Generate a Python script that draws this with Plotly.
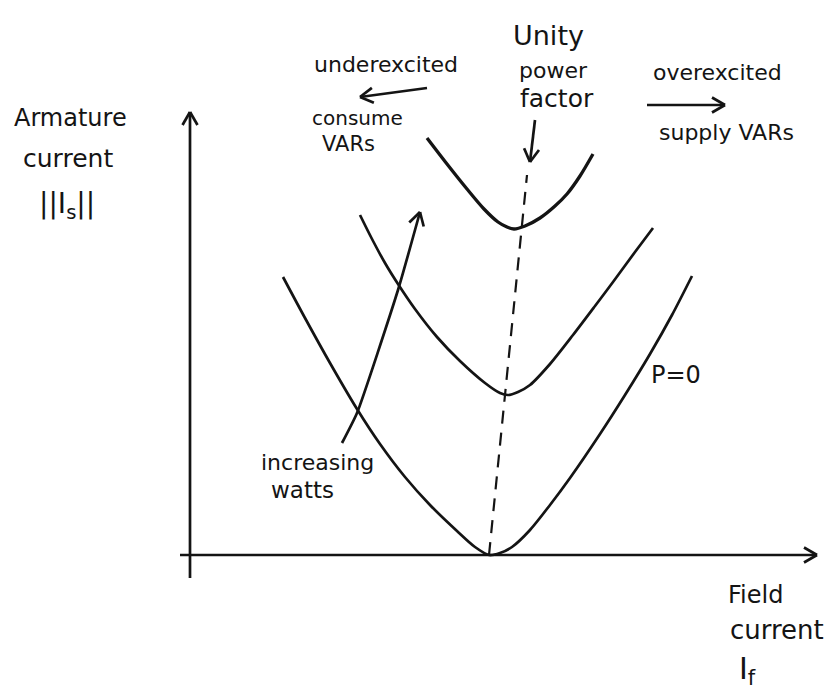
import numpy as np
import plotly.graph_objects as go

# Data units: field current (x) and armature current (y), arbitrary units
# V-curves
p0_if = [0.93, 1.15, 1.40, 1.67, 1.90, 2.15, 2.40, 2.67, 2.85, 2.99,
         3.10, 3.22, 3.40, 3.60, 3.80, 4.10, 4.35, 4.60, 4.82, 5.02]
p0_ia = [2.78, 2.37, 1.92, 1.46, 1.11, 0.78, 0.50, 0.24, 0.08, 0.00,
         0.02, 0.08, 0.25, 0.50, 0.77, 1.21, 1.60, 2.01, 2.40, 2.79]

mid_if = [1.70, 1.82, 1.95, 2.08, 2.25, 2.47, 2.70, 2.95, 3.10, 3.18,
          3.28, 3.40, 3.60, 3.83, 4.05, 4.23, 4.45, 4.63]
mid_ia = [3.40, 3.16, 2.92, 2.71, 2.46, 2.18, 1.94, 1.72, 1.62, 1.60,
          1.63, 1.70, 1.91, 2.20, 2.49, 2.73, 3.03, 3.27]

top_if = [2.37, 2.57, 2.77, 2.94, 3.08, 3.17, 3.24, 3.35, 3.50, 3.65, 3.77, 3.90, 4.03]
top_ia = [4.17, 3.91, 3.66, 3.46, 3.33, 3.28, 3.26, 3.29, 3.37, 3.49, 3.61, 3.79, 4.01]

# unity power factor locus (dashed)
upf_if = [2.99, 3.37]
upf_ia = [0.00, 3.80]

# axes extents
xaxis_if = [-0.10, 6.27]
xaxis_ia = [0.0, 0.0]
yaxis_if = [0.0, 0.0]
yaxis_ia = [-0.23, 4.43]

# annotation arrows
watts_if = [1.52, 1.67, 2.08, 2.30]
watts_ia = [1.12, 1.42, 2.65, 3.43]
upf_arrow_if = [3.45, 3.40]
upf_arrow_ia = [4.35, 3.93]
under_if = [2.37, 1.70]
under_ia = [4.67, 4.58]
over_if = [4.57, 5.35]
over_ia = [4.50, 4.50]

INK = "#141414"
FONT = "DejaVu Sans"
LW = 2.7

fig = go.Figure()


def line(xs, ys, width=LW, dash=None, shape="linear", smooth=None):
    ln = dict(color=INK, width=width, shape=shape)
    if dash:
        ln["dash"] = dash
    if smooth is not None:
        ln["smoothing"] = smooth
    fig.add_trace(go.Scatter(x=xs, y=ys, mode="lines", line=ln,
                             hoverinfo="skip", showlegend=False))


def head(xs, ys, length=0.15, ang=30):
    tx, ty = xs[-1], ys[-1]
    dx, dy = xs[-1] - xs[-2], ys[-1] - ys[-2]
    th = np.arctan2(dy, dx)
    px, py = [], []
    for s in (1, -1):
        a = th + np.pi - s * np.radians(ang)
        px += [tx + length * np.cos(a), tx, None]
        py += [ty + length * np.sin(a), ty, None]
    line(px, py)


# axes
line(xaxis_if, xaxis_ia)
head(xaxis_if, xaxis_ia)
line(yaxis_if, yaxis_ia)
head(yaxis_if, yaxis_ia)

# curves
line(p0_if, p0_ia, shape="spline", smooth=0.8)
line(mid_if, mid_ia, shape="spline", smooth=0.8)
line(top_if, top_ia, width=3.3, shape="spline", smooth=0.8)
line(upf_if, upf_ia, width=2.2, dash="13px,9px")

# arrows
line(watts_if, watts_ia, shape="spline", smooth=0.5)
head(watts_if, watts_ia)
line(upf_arrow_if, upf_arrow_ia)
head(upf_arrow_if, upf_arrow_ia)
line(under_if, under_ia)
head(under_if, under_ia)
line(over_if, over_ia)
head(over_if, over_ia)

labels = [
    ("Armature", -1.20, 4.37, 24),
    ("current", -1.22, 3.97, 25),
    ("||I<sub>s</sub>||", -1.23, 3.50, 28),
    ("underexcited", 1.96, 4.91, 22),
    ("consume", 1.67, 4.37, 20),
    ("VARs", 1.58, 4.11, 21),
    ("Unity", 3.58, 5.20, 27),
    ("power", 3.63, 4.85, 22),
    ("factor", 3.67, 4.57, 25),
    ("overexcited", 5.27, 4.83, 22),
    ("supply VARs", 5.36, 4.23, 22),
    ("increasing", 1.27, 0.93, 22),
    ("watts", 1.12, 0.65, 23),
    ("P=0", 4.86, 1.80, 24),
    ("Field", 5.65, -0.40, 24),
    ("current", 5.87, -0.75, 26),
    ("I<sub>f</sub>", 5.57, -1.15, 30),
]
for txt, x, y, sz in labels:
    fig.add_annotation(x=x, y=y, xref="x", yref="y", text=txt, showarrow=False,
                       font=dict(family=FONT, size=sz, color=INK),
                       xanchor="center", yanchor="middle")

fig.update_layout(
    width=828, height=698,
    margin=dict(l=0, r=0, t=0, b=0),
    paper_bgcolor="white", plot_bgcolor="white",
    xaxis=dict(range=[-1.90, 6.38], visible=False, fixedrange=True),
    yaxis=dict(range=[-1.43, 5.55], visible=False, fixedrange=True),
    showlegend=False,
)

fig.write_html("out.html",
               config={"displayModeBar": False},
               post_script="document.body.style.margin='0px';document.body.style.overflow='hidden';")
